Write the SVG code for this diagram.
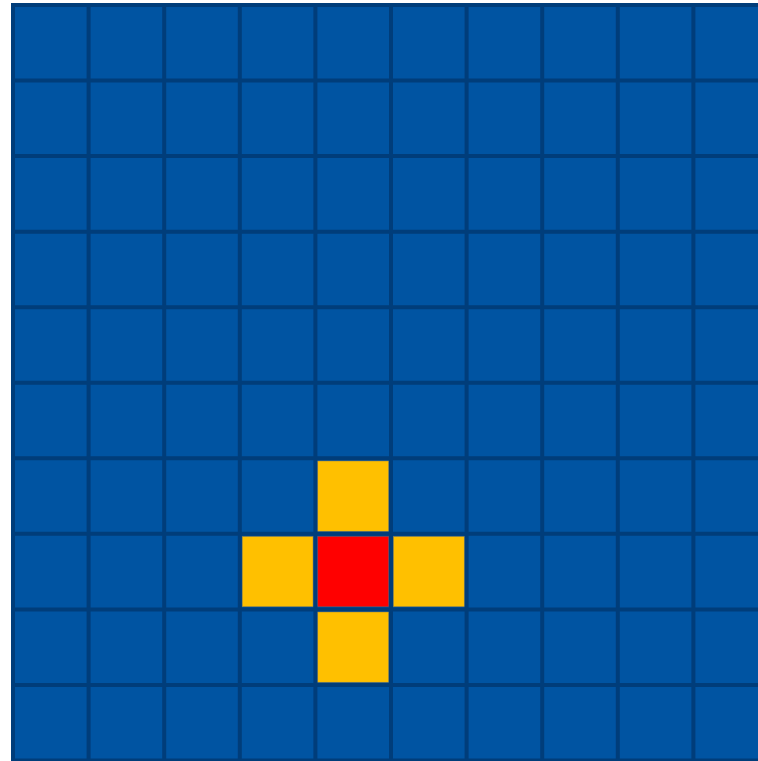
<svg xmlns="http://www.w3.org/2000/svg" width="758" height="761" viewBox="0 0 758 761">
  <style>
    .bg { fill: #0054a2; }
    .grid { stroke: #003d7a; stroke-width: 4; fill: none; }
    .yellow { fill: #ffc000; stroke: #8a7a50; stroke-width: 0.5; }
    .red { fill: #ff0000; stroke: #8a5050; stroke-width: 0.5; }
  </style>
  <rect width="758" height="761" fill="#ffffff"/>
  <g id="grid">
    <rect class="bg" x="13" y="5" width="760" height="760"/>
    <path class="grid" d="
      M13,3 V761 M88.6,3 V761 M164.2,3 V761 M239.8,3 V761 M315.4,3 V761 M391,3 V761 M466.6,3 V761 M542.2,3 V761 M617.8,3 V761 M693.4,3 V761
      M11,5 H758 M11,80.55 H758 M11,156.1 H758 M11,231.65 H758 M11,307.2 H758 M11,382.75 H758 M11,458.3 H758 M11,533.85 H758 M11,609.4 H758 M11,684.95 H758 M11,760.5 H758"/>
  </g>
  <g id="cell-top">
    <rect class="yellow" x="317.8" y="461" width="70.8" height="70.2"/>
  </g>
  <g id="cell-left">
    <rect class="yellow" x="242.2" y="536.5" width="70.8" height="70.2"/>
  </g>
  <g id="cell-center">
    <rect class="red" x="317.8" y="536.5" width="70.8" height="70.2"/>
  </g>
  <g id="cell-right">
    <rect class="yellow" x="393.4" y="536.5" width="70.8" height="70.2"/>
  </g>
  <g id="cell-bottom">
    <rect class="yellow" x="317.8" y="612" width="70.8" height="70.2"/>
  </g>
</svg>
